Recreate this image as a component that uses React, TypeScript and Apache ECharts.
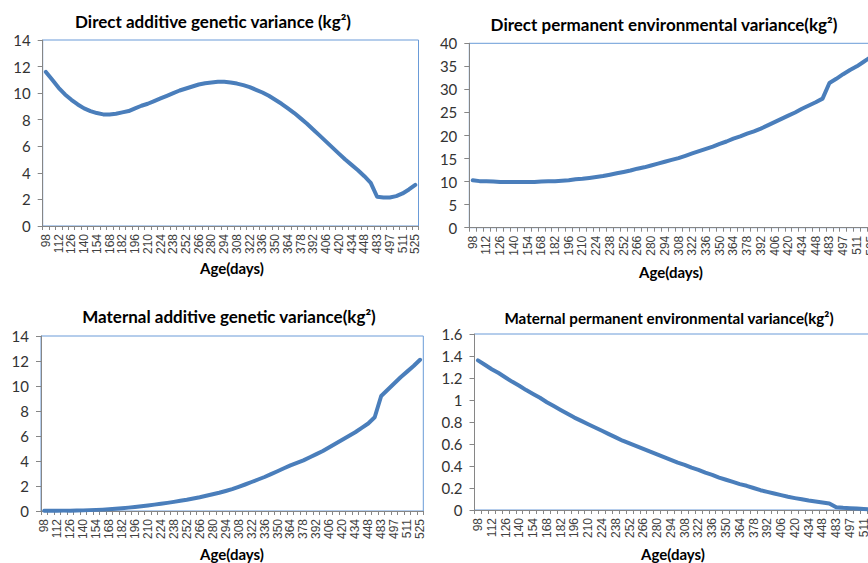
import React, { useEffect, useRef } from "react";
import * as echarts from "echarts";

const ages = [
  "98", "105", "112", "119", "126", "133", "140", "147", "154", "161",
  "168", "175", "182", "189", "196", "203", "210", "217", "224", "231",
  "238", "245", "252", "259", "266", "273", "280", "287", "294", "301",
  "308", "315", "322", "329", "336", "343", "350", "357", "364", "371",
  "378", "385", "392", "399", "406", "413", "420", "427", "434", "441",
  "448", "455", "483", "490", "497", "504", "511", "518", "525",
];

const directAdditive = [
  11.6, 11.0, 10.4, 9.9, 9.5, 9.15, 8.85, 8.65, 8.5, 8.4,
  8.4, 8.45, 8.55, 8.65, 8.85, 9.05, 9.2, 9.4, 9.6, 9.8,
  10.0, 10.2, 10.35, 10.5, 10.65, 10.75, 10.8, 10.85, 10.85, 10.8,
  10.72, 10.6, 10.45, 10.25, 10.05, 9.8, 9.5, 9.2, 8.85, 8.5,
  8.1, 7.7, 7.25, 6.8, 6.35, 5.9, 5.45, 5.0, 4.6, 4.2,
  3.75, 3.25, 2.2, 2.15, 2.15, 2.25, 2.45, 2.75, 3.1,
];

const directPermanent = [
  10.3, 10.1, 10.1, 10.0, 9.9, 9.9, 9.9, 9.9, 9.9, 9.9,
  10.0, 10.1, 10.1, 10.2, 10.3, 10.5, 10.6, 10.8, 11.0, 11.2,
  11.5, 11.8, 12.1, 12.4, 12.8, 13.1, 13.5, 13.9, 14.3, 14.7,
  15.1, 15.6, 16.1, 16.6, 17.1, 17.6, 18.2, 18.7, 19.3, 19.8,
  20.4, 20.9, 21.5, 22.2, 22.9, 23.6, 24.3, 25.0, 25.8, 26.5,
  27.2, 28.0, 31.4, 32.3, 33.3, 34.2, 35.0, 36.0, 37.0,
];

const maternalAdditive = [
  0.02, 0.02, 0.02, 0.03, 0.03, 0.04, 0.05, 0.07, 0.09, 0.11,
  0.14, 0.18, 0.22, 0.27, 0.32, 0.38, 0.44, 0.51, 0.58, 0.65,
  0.73, 0.82, 0.9, 1.0, 1.1, 1.22, 1.34, 1.46, 1.6, 1.75,
  1.93, 2.12, 2.32, 2.52, 2.72, 2.95, 3.18, 3.42, 3.65, 3.85,
  4.05, 4.3, 4.55, 4.8, 5.1, 5.4, 5.7, 6.0, 6.3, 6.65,
  7.0, 7.5, 9.2, 9.7, 10.2, 10.7, 11.15, 11.6, 12.1,
];

const maternalPermanent = [
  1.36, 1.32, 1.28, 1.245, 1.205, 1.165, 1.13, 1.09, 1.055, 1.02,
  0.98, 0.945, 0.91, 0.875, 0.84, 0.81, 0.78, 0.75, 0.72, 0.69,
  0.66, 0.63, 0.605, 0.58, 0.555, 0.53, 0.505, 0.48, 0.455, 0.43,
  0.41, 0.385, 0.365, 0.34, 0.32, 0.295, 0.275, 0.255, 0.235, 0.22,
  0.2, 0.18, 0.165, 0.15, 0.135, 0.12, 0.108, 0.097, 0.086, 0.077,
  0.068, 0.06, 0.025, 0.02, 0.017, 0.013, 0.009, 0.006, 0.004,
];

const titles = [
  "Direct additive genetic variance (kg²)",
  "Direct permanent environmental variance(kg²)",
  "Maternal additive genetic variance(kg²)",
  "Maternal permanent environmental variance(kg²)",
];
const xName = "Age(days)";
const yMax = [14, 40, 14, 1.6];
const yStep = [2, 5, 2, 0.2];

const FONT = "Lato, 'Liberation Sans', sans-serif";
const XFONT = "'Liberation Sans', Arial, sans-serif";
const LINE = "#4a7ebb";
const AXIS = "#868686";
const BORDER = "#6a9bd8";

export default function App() {
  const ref = useRef<HTMLDivElement>(null);
  useEffect(() => {
    if (!ref.current) return;
    const chart = echarts.init(ref.current, null, { renderer: "svg" });
    const grids = [
      { left: 42.7, right: 868 - 418.5, top: 40, bottom: 563 - 226 },
      { left: 469.3, right: -6, top: 43.3, bottom: 563 - 227.7 },
      { left: 41, right: 868 - 423.3, top: 336, bottom: 563 - 511 },
      { left: 474.5, right: -13, top: 334, bottom: 563 - 510 },
    ];
    const titlePos = [
      [213, 21, 17],
      [664, 24, 17],
      [229, 316, 17],
      [669, 318, 15.2],
    ];
    const namePos = [
      [232, 268],
      [671, 272],
      [232, 554],
      [673, 554],
    ];
    const seriesData = [directAdditive, directPermanent, maternalAdditive, maternalPermanent];
    const graphic: any[] = [];
    titles.forEach((t, i) => {
      graphic.push({
        type: "text",
        x: titlePos[i][0],
        y: titlePos[i][1],
        style: {
          text: t,
          textAlign: "center",
          textVerticalAlign: "middle",
          font: `bold ${titlePos[i][2]}px ${FONT}`,
          fill: "#000",
        },
      });
      graphic.push({
        type: "text",
        x: namePos[i][0],
        y: namePos[i][1],
        style: {
          text: xName,
          textAlign: "center",
          textVerticalAlign: "middle",
          font: `bold 15px ${FONT}`,
          fill: "#000",
        },
      });
    });
    chart.setOption({
      animation: false,
      backgroundColor: "#fff",
      graphic,
      grid: grids.map((g) => ({
        ...g,
        show: true,
        borderColor: BORDER,
        borderWidth: 1,
        containLabel: false,
        outerBoundsMode: "none",
      })),
      xAxis: grids.map((_, i) => ({
        type: "category",
        gridIndex: i,
        data: ages,
        boundaryGap: true,
        axisLine: { show: true, lineStyle: { color: AXIS, width: 1 } },
        axisTick: { show: true, interval: 0, length: 4, lineStyle: { color: AXIS } },
        axisLabel: {
          interval: 1,
          rotate: 90,
          fontSize: 12,
          fontFamily: XFONT,
          color: "#404040",
          margin: 8,
          hideOverlap: false,
        },
        splitLine: { show: false },
      })),
      yAxis: grids.map((_, i) => ({
        type: "value",
        gridIndex: i,
        min: 0,
        max: yMax[i],
        interval: yStep[i],
        axisLine: { show: true, lineStyle: { color: AXIS, width: 1 } },
        axisTick: { show: true, length: 5, lineStyle: { color: AXIS } },
        axisLabel: { fontSize: 15, fontFamily: FONT, color: "#333", margin: 12 },
        splitLine: { show: false },
      })),
      series: seriesData.map((d, i) => ({
        type: "line",
        xAxisIndex: i,
        yAxisIndex: i,
        data: d,
        showSymbol: false,
        smooth: false,
        lineStyle: { color: LINE, width: 4, cap: "round", join: "round" },
      })),
    });
    return () => chart.dispose();
  }, []);
  return (
    <div
      ref={ref}
      style={{ position: "fixed", left: 0, top: 0, width: 868, height: 563, background: "#fff" }}
    />
  );
}
